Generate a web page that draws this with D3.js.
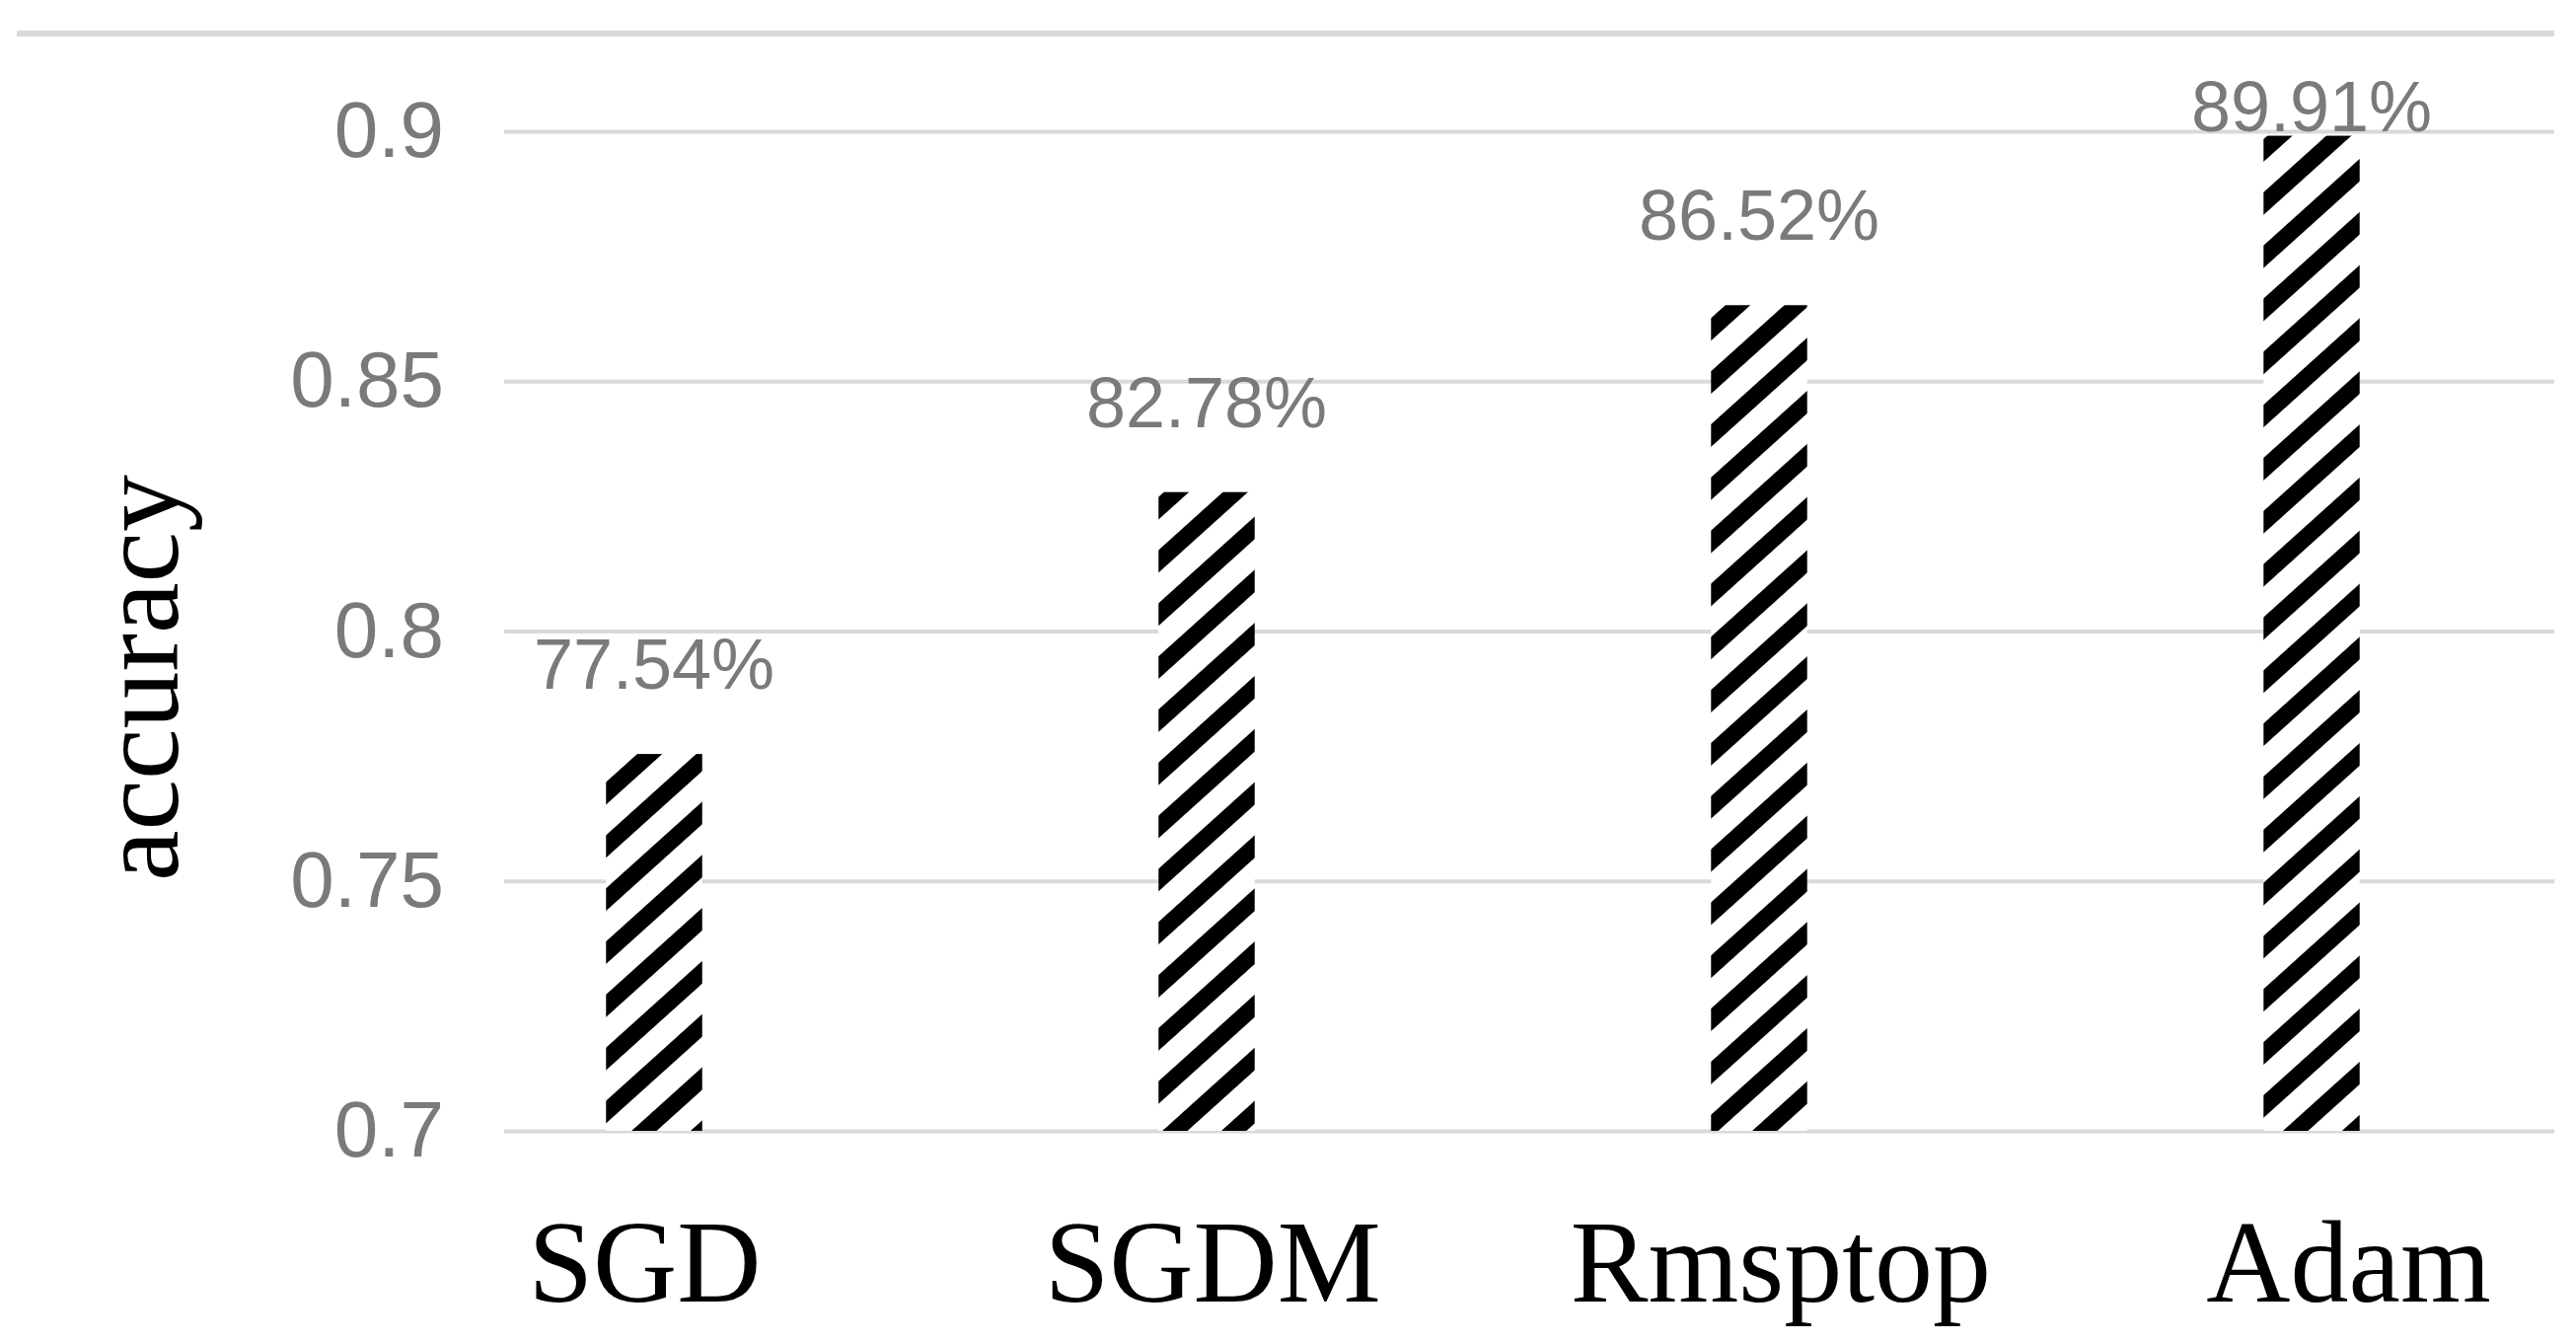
<!DOCTYPE html>
<html>
<head>
<meta charset="utf-8">
<script src="https://cdn.jsdelivr.net/npm/d3@7"></script>
<style>
  body { margin: 0; background: #fff; }
</style>
</head>
<body>
<svg id="chart"></svg>
<script>
const categories = ["SGD", "SGDM", "Rmsptop", "Adam"];
const accuracy = [0.7754, 0.8278, 0.8652, 0.8991];
const valueLabels = ["77.54%", "82.78%", "86.52%", "89.91%"];
const yTicks = [0.7, 0.75, 0.8, 0.85, 0.9];
const yTickLabels = ["0.7", "0.75", "0.8", "0.85", "0.9"];

const W = 2611, H = 1360;
const plot = { left: 511, right: 2589, top: 133, bottom: 1146 };

const svg = d3.select("#chart")
    .attr("width", W)
    .attr("height", H)
    .style("background", "#fff");

const data = categories.map((c, i) => ({ name: c, value: accuracy[i], label: valueLabels[i] }));

const y = d3.scaleLinear()
    .domain([0.7, 0.9])
    .range([plot.bottom, plot.top]);

// bars sit a bit right of the gridline extent in the original, so the band range is set separately
const x = d3.scaleBand()
    .domain(categories)
    .range([383, 2623])
    .paddingInner(0.826)
    .paddingOuter(0.413);

// category text is placed on its own point scale
const xLabel = d3.scalePoint()
    .domain(categories)
    .range([653, 2380]);

//hatch pattern
const defs = svg.append("defs");
const hatch = defs.append("pattern")
    .attr("id", "hatch")
    .attr("patternUnits", "userSpaceOnUse")
    .attr("width", 40)
    .attr("height", 20)
    .attr("patternTransform", "rotate(48)");
hatch.append("rect")
    .attr("width", 40)
    .attr("height", 20)
    .attr("fill", "#fff");
hatch.append("rect")
    .attr("width", 17)
    .attr("height", 20)
    .attr("fill", "#000");

//top border
svg.append("line")
    .attr("x1", 17)
    .attr("x2", plot.right)
    .attr("y1", 34)
    .attr("y2", 34)
    .attr("stroke", "#d9d9d9")
    .attr("stroke-width", 6);

//y axis with gridlines
const yAxis = d3.axisLeft(y)
    .tickValues(yTicks)
    .tickFormat((d, i) => yTickLabels[i])
    .tickSizeInner(-(plot.right - plot.left))
    .tickSizeOuter(0)
    .tickPadding(61);

const gy = svg.append("g")
    .attr("transform", `translate(${plot.left},0)`)
    .call(yAxis);
gy.select(".domain").remove();
gy.selectAll(".tick line")
    .attr("stroke", "#d9d9d9")
    .attr("stroke-width", 4);
gy.selectAll(".tick text")
    .attr("fill", "#7a7a7a")
    .style("font-family", "'Liberation Sans', Arial, sans-serif")
    .style("font-size", "80px");

//bars
svg.selectAll(".bar")
    .data(data)
    .enter()
    .append("rect")
    .attr("class", "bar")
    .attr("x", d => x(d.name))
    .attr("y", d => y(d.value))
    .attr("width", x.bandwidth())
    .attr("height", d => y(0.7) - y(d.value))
    .attr("fill", "url(#hatch)");

//value labels, kept from going above the top gridline
svg.selectAll(".value")
    .data(data)
    .enter()
    .append("text")
    .attr("class", "value")
    .attr("x", d => x(d.name) + x.bandwidth() / 2)
    .attr("y", d => Math.max(y(d.value) - 66, y(0.9)))
    .attr("text-anchor", "middle")
    .attr("fill", "#7a7a7a")
    .style("font-family", "'Liberation Sans', Arial, sans-serif")
    .style("font-size", "72px")
    .text(d => d.label);

//x axis labels
const xAxis = d3.axisBottom(xLabel)
    .tickSize(0)
    .tickPadding(89);
const gx = svg.append("g")
    .attr("transform", `translate(0,${plot.bottom})`)
    .call(xAxis);
gx.select(".domain").remove();
gx.selectAll(".tick text")
    .attr("fill", "#000")
    .style("font-family", "'Liberation Serif', 'Times New Roman', serif")
    .style("font-size", "118px");

//y axis title
svg.append("text")
    .attr("transform", `translate(180, 687) rotate(-90)`)
    .attr("text-anchor", "middle")
    .attr("fill", "#000")
    .style("font-family", "'Liberation Serif', 'Times New Roman', serif")
    .style("font-size", "116px")
    .text("accuracy");
</script>
</body>
</html>
